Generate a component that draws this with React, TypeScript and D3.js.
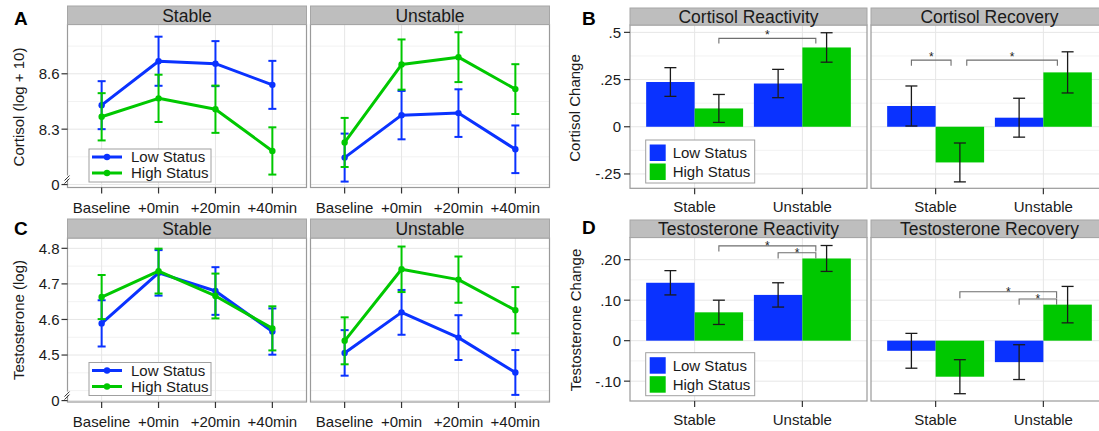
import React from "react";
import * as d3 from "d3";

// ---------- DATA ----------
const timePoints = ["Baseline", "+0min", "+20min", "+40min"];
const stabilityFacets = ["Stable", "Unstable"];
const statusGroups = ["Low Status", "High Status"];
const changeCategories = ["Stable", "Unstable"];

// Panel A: Cortisol (log + 10)
const cortisolLowStable = [8.43, 8.668, 8.655, 8.54];
const cortisolLowStableSE = [0.13, 0.133, 0.122, 0.13];
const cortisolHighStable = [8.367, 8.467, 8.408, 8.182];
const cortisolHighStableSE = [0.128, 0.128, 0.128, 0.128];
const cortisolLowUnstable = [8.146, 8.376, 8.387, 8.191];
const cortisolLowUnstableSE = [0.13, 0.131, 0.129, 0.129];
const cortisolHighUnstable = [8.228, 8.65, 8.69, 8.517];
const cortisolHighUnstableSE = [0.133, 0.136, 0.135, 0.135];
const cortisolTicks = [8.0, 8.3, 8.6];
const cortisolTickLabels = ["0", "8.3", "8.6"];
const cortisolMinor = [8.15, 8.45, 8.75];

// Panel C: Testosterone (log)
const testoLowStable = [4.589, 4.731, 4.68, 4.566];
const testoLowStableSE = [0.065, 0.064, 0.067, 0.065];
const testoHighStable = [4.663, 4.736, 4.666, 4.575];
const testoHighStableSE = [0.062, 0.063, 0.063, 0.062];
const testoLowUnstable = [4.506, 4.62, 4.549, 4.451];
const testoLowUnstableSE = [0.064, 0.063, 0.063, 0.063];
const testoHighUnstable = [4.54, 4.741, 4.712, 4.626];
const testoHighUnstableSE = [0.066, 0.064, 0.065, 0.065];
const testoTicks = [4.372, 4.5, 4.6, 4.7, 4.8];
const testoTickLabels = ["0", "4.5", "4.6", "4.7", "4.8"];
const testoMinor = [4.4, 4.45, 4.55, 4.65, 4.75];

// Panel B: Cortisol change
const cortReactivityLow = [0.237, 0.229];
const cortReactivityLowSE = [0.076, 0.075];
const cortReactivityHigh = [0.097, 0.42];
const cortReactivityHighSE = [0.074, 0.078];
const cortRecoveryLow = [0.11, 0.048];
const cortRecoveryLowSE = [0.106, 0.103];
const cortRecoveryHigh = [-0.189, 0.288];
const cortRecoveryHighSE = [0.103, 0.109];
const cortChangeTicks = [-0.25, 0, 0.25, 0.5];
const cortChangeTickLabels = ["-.25", "0", ".25", ".5"];
const cortChangeMinor = [-0.125, 0.125, 0.375];
const cortBrackets = [
  [{ x1: 0.225, x2: 1.125, y: 0.468, y2: 0.441 }],
  [
    { x1: -0.225, x2: 0.143, y: 0.353, y2: 0.323 },
    { x1: 0.289, x2: 1.13, y: 0.353, y2: 0.323 },
  ],
];

// Panel D: Testosterone change
const testReactivityLow = [0.143, 0.113];
const testReactivityLowSE = [0.03, 0.03];
const testReactivityHigh = [0.07, 0.203];
const testReactivityHighSE = [0.03, 0.032];
const testRecoveryLow = [-0.025, -0.053];
const testRecoveryLowSE = [0.043, 0.043];
const testRecoveryHigh = [-0.089, 0.089];
const testRecoveryHighSE = [0.042, 0.045];
const testChangeTicks = [-0.1, 0, 0.1, 0.2];
const testChangeTickLabels = ["-.10", "0", ".10", ".20"];
const testChangeMinor = [-0.05, 0.05, 0.15];
const testBrackets = [
  [
    { x1: 0.225, x2: 1.125, y: 0.234, y2: 0.22 },
    { x1: 0.775, x2: 1.125, y: 0.217, y2: 0.203 },
  ],
  [
    { x1: 0.225, x2: 1.123, y: 0.121, y2: 0.105 },
    { x1: 0.775, x2: 1.123, y: 0.103, y2: 0.089 },
  ],
];

// ---------- STYLE ----------
const FONT = "'Liberation Sans', Arial, Helvetica, sans-serif";
const BLUE = "#0a32ff";
const GREEN = "#00c800";
const COLORS = [BLUE, GREEN];
const BORDER = "#9a9a9a";
const GRID_MAJOR = "#e6e6e6";
const GRID_MINOR = "#f2f2f2";
const STRIP_FILL = "#bebebe";
const STRIP_STROKE = "#a6a6a6";
const TICK = "#333";
const TEXT = "#1a1a1a";

type Bracket = { x1: number; x2: number; y: number; y2: number };

function Strip({ x0, x1, y0, y1, label }: any) {
  return (
    <g>
      <rect x={x0} y={y0} width={x1 - x0} height={y1 - y0} fill={STRIP_FILL} stroke={STRIP_STROKE} strokeWidth={1} />
      <text x={(x0 + x1) / 2} y={(y0 + y1) / 2} dy="0.36em" textAnchor="middle" fontSize={17.5} fill={TEXT}>
        {label}
      </text>
    </g>
  );
}

function YAxis({ x, y, ticks, labels, labelGap }: any) {
  return (
    <g>
      {ticks.map((t: number, i: number) => (
        <g key={i}>
          <line x1={x - 6} x2={x} y1={y(t)} y2={y(t)} stroke={TICK} strokeWidth={1.2} />
          <text x={x - labelGap} y={y(t)} dy="0.36em" textAnchor="end" fontSize={15} fill={TEXT}>
            {labels[i]}
          </text>
        </g>
      ))}
    </g>
  );
}

function LinePanel(props: any) {
  const { facetsX, stripTop, top, bottom, yDomain, ticks, tickLabels, minor, low, lowSE, high, highSE, legend, title, titleX, titleY, letter, letterX, letterY } = props;
  const y = d3.scaleLinear().domain(yDomain).range([bottom, top]);
  const line = d3.line<number>();
  return (
    <g>
      {facetsX.map(([x0, x1]: number[], fi: number) => {
        const x = d3.scalePoint().domain(timePoints).range([x0, x1]).padding(0.6);
        const series = [
          { m: low[fi], se: lowSE[fi], c: COLORS[0] },
          { m: high[fi], se: highSE[fi], c: COLORS[1] },
        ];
        return (
          <g key={fi}>
            <rect x={x0} y={top} width={x1 - x0} height={bottom - top} fill="#fff" />
            {minor.map((v: number, i: number) => (
              <line key={"mi" + i} x1={x0} x2={x1} y1={y(v)} y2={y(v)} stroke={GRID_MINOR} strokeWidth={1} />
            ))}
            {ticks.map((v: number, i: number) => (
              <line key={"ma" + i} x1={x0} x2={x1} y1={y(v)} y2={y(v)} stroke={GRID_MAJOR} strokeWidth={1} />
            ))}
            {timePoints.map((t) => (
              <line key={t} x1={x(t)} x2={x(t)} y1={top} y2={bottom} stroke={GRID_MAJOR} strokeWidth={1} />
            ))}
            {series.map((s, si) => (
              <g key={si}>
                {s.m.map((v: number, i: number) => {
                  const cx = x(timePoints[i])!;
                  return (
                    <g key={i} stroke={s.c} strokeWidth={2}>
                      <line x1={cx} x2={cx} y1={y(v - s.se[i])} y2={y(v + s.se[i])} />
                      <line x1={cx - 4} x2={cx + 4} y1={y(v - s.se[i])} y2={y(v - s.se[i])} />
                      <line x1={cx - 4} x2={cx + 4} y1={y(v + s.se[i])} y2={y(v + s.se[i])} />
                    </g>
                  );
                })}
                <path
                  d={line(s.m.map((v: number, i: number) => [x(timePoints[i])!, y(v)] as any) as any) || ""}
                  fill="none"
                  stroke={s.c}
                  strokeWidth={3}
                  strokeLinejoin="round"
                />
                {s.m.map((v: number, i: number) => (
                  <circle key={i} cx={x(timePoints[i])!} cy={y(v)} r={3.2} fill={s.c} />
                ))}
              </g>
            ))}
            <rect x={x0} y={top} width={x1 - x0} height={bottom - top} fill="none" stroke={BORDER} strokeWidth={1.2} />
            <Strip x0={x0} x1={x1} y0={stripTop} y1={top} label={stabilityFacets[fi]} />
            {timePoints.map((t) => (
              <g key={"xt" + t}>
                <line x1={x(t)} x2={x(t)} y1={bottom} y2={bottom + 6} stroke={TICK} strokeWidth={1.2} />
                <text x={x(t)} y={bottom + 25} textAnchor="middle" fontSize={15} fill={TEXT}>
                  {t}
                </text>
              </g>
            ))}
          </g>
        );
      })}
      <YAxis x={facetsX[0][0]} y={y} ticks={ticks} labels={tickLabels} labelGap={8} />
      {/* axis break mark */}
      <g>
        <rect x={facetsX[0][0] - 2} y={y(ticks[0]) - 9} width={4} height={4} fill="#fff" />
        <line x1={facetsX[0][0] - 3} x2={facetsX[0][0] + 2} y1={y(ticks[0]) - 4} y2={y(ticks[0]) - 9} stroke={TICK} strokeWidth={1} />
        <line x1={facetsX[0][0] - 3} x2={facetsX[0][0] + 2} y1={y(ticks[0]) - 1} y2={y(ticks[0]) - 6} stroke={TICK} strokeWidth={1} />
      </g>
      {/* legend */}
      <g>
        <rect x={legend.x} y={legend.y} width={122} height={33} fill="#fff" stroke="#a0a0a0" strokeWidth={1} />
        {statusGroups.map((g, i) => {
          const ry = legend.y + 8 + i * 16;
          return (
            <g key={g}>
              <line x1={legend.x + 3} x2={legend.x + 33} y1={ry} y2={ry} stroke={COLORS[i]} strokeWidth={3} />
              <circle cx={legend.x + 18} cy={ry} r={3.2} fill={COLORS[i]} />
              <text x={legend.x + 42} y={ry} dy="0.36em" fontSize={15} fill={TEXT}>
                {g}
              </text>
            </g>
          );
        })}
      </g>
      <text transform={`translate(${titleX},${titleY}) rotate(-90)`} textAnchor="middle" fontSize={15} fill={TEXT}>
        {title}
      </text>
      <text x={letterX} y={letterY} fontSize={19} fontWeight="bold" fill="#000">
        {letter}
      </text>
    </g>
  );
}

function BarPanel(props: any) {
  const { facetsX, facetLabels, stripTop, top, bottom, yDomain, ticks, tickLabels, minor, low, lowSE, high, highSE, brackets, starDy, legend, title, titleX, titleY, letter, letterX, letterY } = props;
  const y = d3.scaleLinear().domain(yDomain).range([bottom, top]);
  return (
    <g>
      {facetsX.map(([x0, x1]: number[], fi: number) => {
        const xb = d3.scaleBand().domain(changeCategories).range([x0, x1]).paddingInner(0.1).paddingOuter(0.15);
        const xg = d3.scaleBand().domain(statusGroups).range([0, xb.bandwidth()]);
        const xi = d3.scaleLinear().domain([-0.6, 1.6]).range([x0, x1]);
        const series = [
          { m: low[fi], se: lowSE[fi] },
          { m: high[fi], se: highSE[fi] },
        ];
        return (
          <g key={fi}>
            <rect x={x0} y={top} width={x1 - x0} height={bottom - top} fill="#fff" />
            {minor.map((v: number, i: number) => (
              <line key={"mi" + i} x1={x0} x2={x1} y1={y(v)} y2={y(v)} stroke={GRID_MINOR} strokeWidth={1} />
            ))}
            {ticks.map((v: number, i: number) => (
              <line key={"ma" + i} x1={x0} x2={x1} y1={y(v)} y2={y(v)} stroke={GRID_MAJOR} strokeWidth={1} />
            ))}
            {changeCategories.map((c) => (
              <line key={c} x1={xb(c)! + xb.bandwidth() / 2} x2={xb(c)! + xb.bandwidth() / 2} y1={top} y2={bottom} stroke={GRID_MAJOR} strokeWidth={1} />
            ))}
            {series.map((s, si) =>
              s.m.map((v: number, ci: number) => {
                const bx = xb(changeCategories[ci])! + xg(statusGroups[si])!;
                return (
                  <rect key={si + "-" + ci} x={bx} y={y(Math.max(0, v))} width={xg.bandwidth()} height={Math.abs(y(v) - y(0))} fill={COLORS[si]} />
                );
              })
            )}
            {series.map((s, si) =>
              s.m.map((v: number, ci: number) => {
                const cx = xb(changeCategories[ci])! + xg(statusGroups[si])! + xg.bandwidth() / 2;
                return (
                  <g key={"e" + si + "-" + ci} stroke="#1a1a1a" strokeWidth={1.3}>
                    <line x1={cx} x2={cx} y1={y(v - s.se[ci])} y2={y(v + s.se[ci])} />
                    <line x1={cx - 6} x2={cx + 6} y1={y(v - s.se[ci])} y2={y(v - s.se[ci])} />
                    <line x1={cx - 6} x2={cx + 6} y1={y(v + s.se[ci])} y2={y(v + s.se[ci])} />
                  </g>
                );
              })
            )}
            {brackets[fi].map((b: Bracket, bi: number) => (
              <g key={"b" + bi}>
                <path
                  d={`M${xi(b.x1)},${y(b.y2)}V${y(b.y)}H${xi(b.x2)}V${y(b.y2)}`}
                  fill="none"
                  stroke="#6e6e6e"
                  strokeWidth={1.1}
                />
                <text x={(xi(b.x1) + xi(b.x2)) / 2} y={y(b.y) + starDy} textAnchor="middle" fontSize={12} fill="#222">
                  *
                </text>
              </g>
            ))}
            <rect x={x0} y={top} width={x1 - x0} height={bottom - top} fill="none" stroke={BORDER} strokeWidth={1.2} />
            <Strip x0={x0} x1={x1} y0={stripTop} y1={top} label={facetLabels[fi]} />
            {changeCategories.map((c) => {
              const cx = xb(c)! + xb.bandwidth() / 2;
              return (
                <g key={"xt" + c}>
                  <line x1={cx} x2={cx} y1={bottom} y2={bottom + 6} stroke={TICK} strokeWidth={1.2} />
                  <text x={cx} y={bottom + 24} textAnchor="middle" fontSize={15} fill={TEXT}>
                    {c}
                  </text>
                </g>
              );
            })}
          </g>
        );
      })}
      <YAxis x={facetsX[0][0]} y={y} ticks={ticks} labels={tickLabels} labelGap={9} />
      <g>
        <rect x={legend.x} y={legend.y} width={109} height={43} fill="#fff" stroke="#a0a0a0" strokeWidth={1} />
        {statusGroups.map((g, i) => {
          const ry = legend.y + 4.5 + i * 19;
          return (
            <g key={g}>
              <rect x={legend.x + 4} y={ry} width={16} height={16.5} fill={COLORS[i]} />
              <text x={legend.x + 27} y={ry + 8.5} dy="0.36em" fontSize={15} fill={TEXT}>
                {g}
              </text>
            </g>
          );
        })}
      </g>
      <text transform={`translate(${titleX},${titleY}) rotate(-90)`} textAnchor="middle" fontSize={15} fill={TEXT}>
        {title}
      </text>
      <text x={letterX} y={letterY} fontSize={19} fontWeight="bold" fill="#000">
        {letter}
      </text>
    </g>
  );
}

export default function App() {
  const lineFacets = [
    [67.5, 306.5],
    [310.5, 549.5],
  ];
  const barFacets = [
    [630, 867],
    [871, 1108],
  ];
  return (
    <svg
      width={1099}
      height={431}
      viewBox="0 0 1099 431"
      style={{ position: "absolute", left: 0, top: 0, background: "#fff", fontFamily: FONT }}
    >
      <rect x={0} y={0} width={1099} height={431} fill="#fff" />
      <LinePanel
        facetsX={lineFacets}
        stripTop={6}
        top={24.5}
        bottom={187.5}
        yDomain={[7.984, 8.867]}
        ticks={cortisolTicks}
        tickLabels={cortisolTickLabels}
        minor={cortisolMinor}
        low={[cortisolLowStable, cortisolLowUnstable]}
        lowSE={[cortisolLowStableSE, cortisolLowUnstableSE]}
        high={[cortisolHighStable, cortisolHighUnstable]}
        highSE={[cortisolHighStableSE, cortisolHighUnstableSE]}
        legend={{ x: 89, y: 149 }}
        title="Cortisol (log + 10)"
        titleX={24}
        titleY={107}
        letter="A"
        letterX={14}
        letterY={25}
      />
      <LinePanel
        facetsX={lineFacets}
        stripTop={219}
        top={238}
        bottom={402}
        yDomain={[4.368, 4.829]}
        ticks={testoTicks}
        tickLabels={testoTickLabels}
        minor={testoMinor}
        low={[testoLowStable, testoLowUnstable]}
        lowSE={[testoLowStableSE, testoLowUnstableSE]}
        high={[testoHighStable, testoHighUnstable]}
        highSE={[testoHighStableSE, testoHighUnstableSE]}
        legend={{ x: 89, y: 362.5 }}
        title="Testosterone (log)"
        titleX={24}
        titleY={320}
        letter="C"
        letterX={14}
        letterY={235}
      />
      <BarPanel
        facetsX={barFacets}
        facetLabels={["Cortisol Reactivity", "Cortisol Recovery"]}
        stripTop={8}
        top={25}
        bottom={188.3}
        yDomain={[-0.326, 0.539]}
        ticks={cortChangeTicks}
        tickLabels={cortChangeTickLabels}
        minor={cortChangeMinor}
        low={[cortReactivityLow, cortRecoveryLow]}
        lowSE={[cortReactivityLowSE, cortRecoveryLowSE]}
        high={[cortReactivityHigh, cortRecoveryHigh]}
        highSE={[cortReactivityHighSE, cortRecoveryHighSE]}
        brackets={cortBrackets}
        starDy={1}
        legend={{ x: 645.7, y: 140 }}
        title="Cortisol Change"
        titleX={580}
        titleY={108}
        letter="B"
        letterX={582}
        letterY={25}
      />
      <BarPanel
        facetsX={barFacets}
        facetLabels={["Testosterone Reactivity", "Testosterone Recovery"]}
        stripTop={220}
        top={237.5}
        bottom={401}
        yDomain={[-0.149, 0.2548]}
        ticks={testChangeTicks}
        tickLabels={testChangeTickLabels}
        minor={testChangeMinor}
        low={[testReactivityLow, testRecoveryLow]}
        lowSE={[testReactivityLowSE, testRecoveryLowSE]}
        high={[testReactivityHigh, testRecoveryHigh]}
        highSE={[testReactivityHighSE, testRecoveryHighSE]}
        brackets={testBrackets}
        starDy={4}
        legend={{ x: 645.7, y: 352.7 }}
        title="Testosterone Change"
        titleX={581}
        titleY={320}
        letter="D"
        letterX={582}
        letterY={234}
      />
    </svg>
  );
}
